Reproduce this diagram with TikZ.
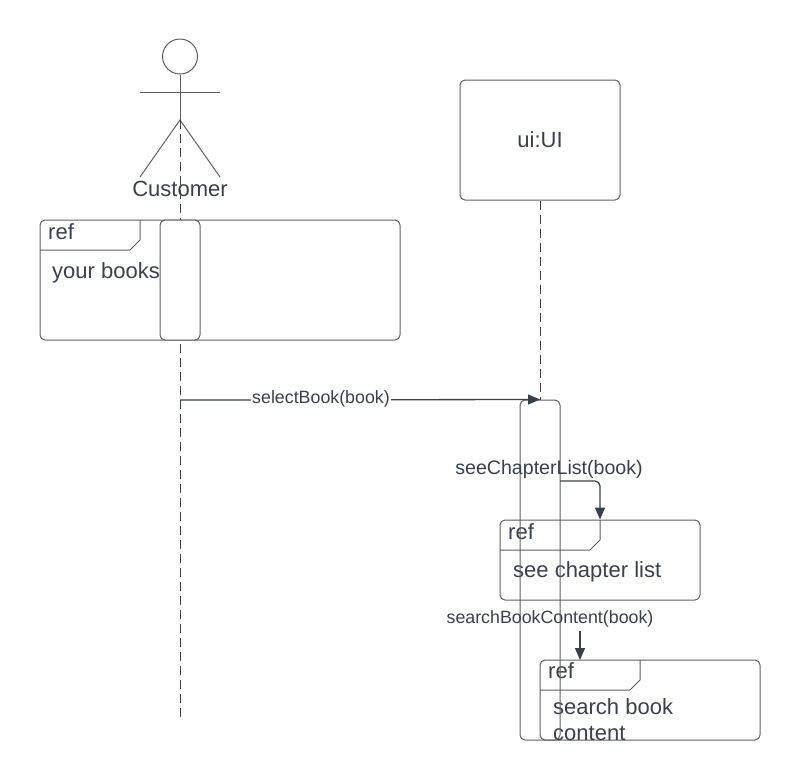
\documentclass[tikz,border=0pt]{standalone}
\usepackage{fontspec}
\setmainfont{Liberation Sans}
\usetikzlibrary{arrows.meta,calc}
\definecolor{linecol}{HTML}{5E5E5E}
\definecolor{txtcol}{HTML}{3A414A}
\definecolor{arrcol}{HTML}{3A414A}
\newcommand{\bigfs}{\fontsize{22}{26}\selectfont}
\newcommand{\smallfs}{\fontsize{17.8}{21}\selectfont}
\newcommand{\midfs}{\fontsize{19.6}{23}\selectfont}
\begin{document}
\begin{tikzpicture}[x=1pt,y=-1pt,
  shp/.style={draw=linecol, line width=1pt},
  frame/.style={shp, rounded corners=5pt, inner sep=0pt},
  bar/.style={shp, rounded corners=5pt, inner sep=0pt, minimum width=40pt},
  life/.style={draw=txtcol, line width=1pt, dash pattern=on 9pt off 5pt},
  msg/.style={draw=arrcol, line width=1.3pt, -{Triangle[length=12pt,width=10pt]}},
  bigtxt/.style={text=txtcol, font=\bigfs, inner sep=0pt},
  smalltxt/.style={text=txtcol, font=\smallfs, inner sep=0pt}
]
\useasboundingbox (0,0) rectangle (800,780);
\fill[white] (0,0) rectangle (800,780);

% actor
\node[circle, shp, minimum size=35pt, inner sep=0pt] (head) at (180,56.5) {};
\coordinate (hip) at (180,120);
\coordinate (armL) at (140,92);
\coordinate (armR) at (220,92);
\coordinate (footL) at (140,177);
\coordinate (footR) at (220,177);
\draw[shp] (head.south) -- (hip);
\draw[shp] (armL) -- (armR);
\draw[shp] (footL) -- (hip) -- (footR);
\node[bigtxt, anchor=base] (cust) at (180,196) {Customer};
\coordinate (custend) at (180,720);
\draw[life] (hip) -- (custend);

% ref frame 1
\node[frame, minimum width=360pt, minimum height=120pt] (f1) at (220,280) {};
\draw[shp] (40,250) -- (130,250) -- (140,240) -- (140,220);
\node[bigtxt, anchor=base west] (f1ref) at (48,239) {ref};
\node[bigtxt, anchor=base west] (f1txt) at (52,278) {your books};
\node[bar, fill=white, minimum height=120pt] (bar1) at (180,280) {};

% ui lifeline head
\node[frame, minimum width=160pt, minimum height=120pt, text=txtcol, font=\bigfs] (ui) at (540,140) {ui:UI};

% ref frame 2
\node[frame, minimum width=200pt, minimum height=80pt] (f2) at (600,560) {};
\draw[shp] (500,550) -- (590,550) -- (600,540) -- (600,520);
\node[bigtxt, anchor=base west] (f2ref) at (508,539) {ref};
\node[bigtxt, anchor=base west] (f2txt) at (513,577) {see chapter list};

% ref frame 3
\node[frame, minimum width=220pt, minimum height=80pt] (f3) at (650,700) {};
\draw[shp] (540,690) -- (630,690) -- (640,680) -- (640,660);
\node[bigtxt, anchor=base west] (f3ref) at (548,678) {ref};
\node[bigtxt, anchor=base west] (f3txt1) at (553,714) {search book};
\node[bigtxt, anchor=base west] (f3txt2) at (553,740) {content};

% activation bar 2
\node[bar, minimum height=340pt] (bar2) at (540,570) {};
\draw[life] (ui.south) -- (bar2.north);

% messages
\coordinate (sbstart) at (180,400);
\draw[msg] (sbstart) -- (bar2.north);
\node[smalltxt, fill=white, inner sep=1pt] (sblabel) at (321,399) {selectBook(book)};

\coordinate (sclstart) at (560,481);
\draw[msg, rounded corners=5pt] (sclstart) -| (f2.north);
\node[text=txtcol, font=\midfs, inner sep=0pt, anchor=base] (scllabel) at (549,474) {seeChapterList(book)};

\coordinate (sbcstart) at (580,631);
\coordinate (sbcend) at (580,660);
\draw[msg] (sbcstart) -- (sbcend);
\node[smalltxt, anchor=base] (sbclabel) at (550,623) {searchBookContent(book)};
\end{tikzpicture}
\end{document}
